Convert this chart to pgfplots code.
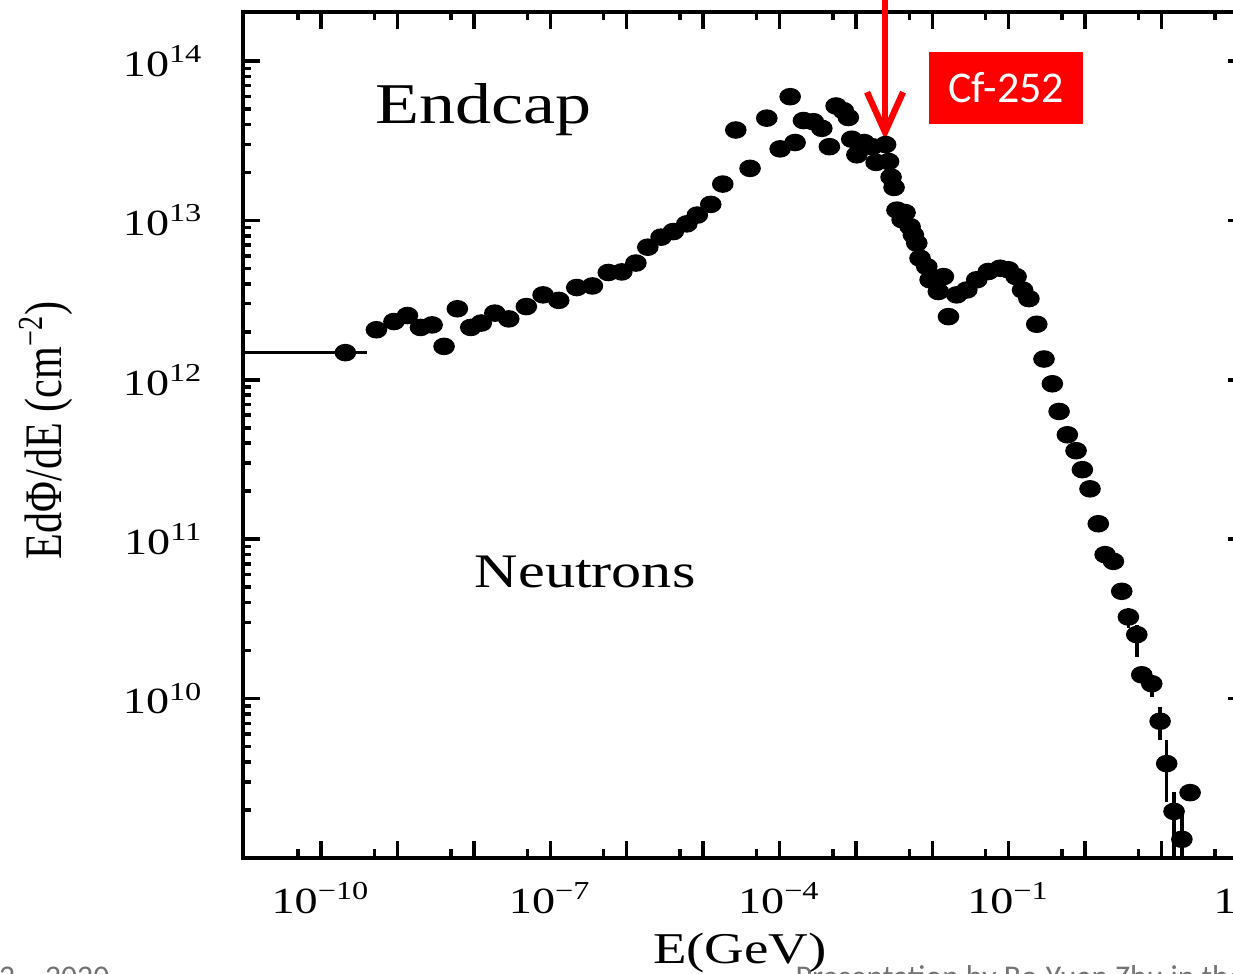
\documentclass[border=0pt]{standalone}
\usepackage{pgfplots}
\pgfplotsset{compat=1.18}
\usepackage{fontspec}
\usepackage{graphicx}
\setmainfont{Liberation Serif}
\newfontfamily\calibri{Carlito}
\usetikzlibrary{arrows.meta}

% stretched tick labels, the scan is wider than tall
\newcommand{\tl}[1]{\scalebox{1.25}[1]{10\textsuperscript{#1}}}

\begin{document}
\begin{tikzpicture}
\begin{axis}[
    at={(2.43cm,1.15cm)}, anchor=south west,
    scale only axis, width=10.02cm, height=8.46cm,
    xmode=log, ymode=log,
    xmin=9.5e-12, xmax=1.24e2,
    ymin=1e9, ymax=2.03e14,
    xtick={1e-10,1e-9,1e-8,1e-7,1e-6,1e-5,1e-4,1e-3,1e-2,1e-1,1,10,100},
    xticklabels={\tl{−10},,,\tl{−7},,,\tl{−4},,,\tl{−1},,,\hspace*{0.16cm}\tl{2}},
    minor xtick={5e-11,5e-10,5e-9,5e-8,5e-7,5e-6,5e-5,5e-4,5e-3,5e-2,0.5,5,50},
    ytick={1e10,1e11,1e12,1e13,1e14},
    yticklabels={\tl{10},\tl{11},\tl{12},\tl{13},\tl{14}},
    minor ytick={2e9,3e9,4e9,5e9,6e9,7e9,8e9,9e9,
                 2e10,3e10,4e10,5e10,6e10,7e10,8e10,9e10,
                 2e11,3e11,4e11,5e11,6e11,7e11,8e11,9e11,
                 2e12,3e12,4e12,5e12,6e12,7e12,8e12,9e12,
                 2e13,3e13,4e13,5e13,6e13,7e13,8e13,9e13},
    tick align=inside,
    major tick length=0.17cm,
    minor tick length=0.085cm,
    tick style={black, line width=1pt},
    axis line style={line width=1pt},
    tick label style={font=\fontsize{10.5}{12}\selectfont},
    xticklabel shift=0.12cm,
    yticklabel shift=0.27cm,
    clip=false,
]

% spectrum
\addplot[only marks, mark=*, black, mark size=2.3pt, mark options={xscale=1.25}]
coordinates {
(2.08e-10,1.48e12) (5.30e-10,2.06e12) (9.0e-10,2.32e12) (1.35e-9,2.53e12)
(2.0e-9,2.13e12) (2.84e-9,2.21e12) (4.07e-9,1.62e12) (6.08e-9,2.79e12)
(9.1e-9,2.13e12) (1.25e-8,2.27e12) (1.88e-8,2.62e12) (2.86e-8,2.41e12)
(4.86e-8,2.88e12) (8.05e-8,3.41e12) (1.29e-7,3.15e12) (2.22e-7,3.79e12)
(3.56e-7,3.88e12) (5.75e-7,4.71e12) (8.62e-7,4.75e12) (1.32e-6,5.40e12)
(1.89e-6,6.79e12) (2.82e-6,7.85e12) (4.08e-6,8.51e12) (6.12e-6,9.51e12)
(8.41e-6,1.08e13) (1.26e-5,1.26e13) (1.81e-5,1.69e13) (2.68e-5,3.69e13)
(4.12e-5,2.12e13) (6.82e-5,4.38e13) (1.02e-4,2.81e13) (1.38e-4,5.97e13)
(1.60e-4,3.08e13) (2.06e-4,4.23e13) (2.78e-4,4.16e13) (3.58e-4,3.78e13)
(4.50e-4,2.90e13) (5.51e-4,5.22e13) (6.86e-4,4.88e13) (7.97e-4,4.42e13)
(8.83e-4,3.23e13) (1.03e-3,2.58e13) (1.28e-3,3.08e13) (1.63e-3,2.90e13)
(1.84e-3,2.31e13) (2.45e-3,2.99e13) (2.68e-3,2.34e13) (2.89e-3,1.87e13)
(3.16e-3,1.61e13) (3.45e-3,1.16e13) (4.03e-3,1.01e13) (4.40e-3,1.12e13)
(5.12e-3,9.14e12) (5.66e-3,8.11e12) (6.27e-3,7.20e12) (6.92e-3,5.79e12)
(8.47e-3,5.13e12) (9.36e-3,4.24e12) (1.20e-2,3.58e12) (1.40e-2,4.44e12)
(1.63e-2,2.49e12) (2.09e-2,3.41e12) (2.83e-2,3.66e12) (3.82e-2,4.24e12)
(5.42e-2,4.78e12) (7.71e-2,5.01e12) (9.9e-2,4.90e12) (0.125,4.44e12)
(0.152,3.66e12) (0.184,3.23e12) (0.233,2.23e12) (0.290,1.35e12)
(0.373,9.44e11) (0.457,6.33e11) (0.586,4.52e11) (0.762,3.59e11)
(0.922,2.73e11) (1.16,2.07e11) (1.49,1.25e11) (1.83,8.0e10)
(2.35,7.26e10) (3.02,4.71e10) (5.52,1.41e10) (23.7,2.57e9)
};

% points with vertical error bars
\addplot[only marks, mark=*, black, mark size=2.3pt, mark options={xscale=1.25},
    error bars/.cd, y dir=both, y explicit, error mark=none,
    error bar style={line width=1pt}]
coordinates {
(3.69,3.25e10) += (0,0.47e10) -= (0,0.46e10)
(4.75,2.52e10) += (0,0.39e10) -= (0,0.69e10)
(7.46,1.24e10) += (0,0.05e10) -= (0,0.21e10)
(9.59,7.21e9) += (0,1.7e9) -= (0,1.68e9)
(11.7,3.91e9) += (0,1.62e9) -= (0,1.68e9)
(14.6,1.96e9) += (0,0.65e9) -= (0,0.96e9)
(18.5,1.31e9) += (0,0.65e9) -= (0,0.30e9)
};

% bin width of the lowest point
\addplot[black, line width=1pt] coordinates {(9.5e-12,1.48e12) (4.0e-10,1.48e12)};

\node[anchor=base, font=\fontsize{16.4}{18}\selectfont] at (axis cs:1.32e-8,4.08e13) {\scalebox{1.25}[1]{Endcap}};
\node[anchor=base, font=\fontsize{13.7}{16}\selectfont] at (axis cs:2.86e-7,4.97e10) {\scalebox{1.25}[1]{Neutrons}};

\draw[red, line width=1.8pt, -{Straight Barb[length=0.4cm, width=0.36cm]}]
    (axis cs:2.41e-3,2.7e14) -- (axis cs:2.41e-3,3.2e13);
\node[fill=red, text=white, minimum width=1.54cm, minimum height=0.72cm, inner sep=0pt,
      font=\calibri\fontsize{12.5}{14}\selectfont] at (axis cs:9.25e-2,6.78e13) {Cf-252};
\end{axis}

\node[rotate=90, font=\fontsize{12}{14}\selectfont] at (0.46cm,5.43cm)
    {\scalebox{1}[1.25]{EdΦ/dE (cm\textsuperscript{−2})}};
\node[anchor=base, font=\fontsize{12.5}{14}\selectfont] at (7.40cm,0.10cm) {\scalebox{1.25}[1]{E(GeV)}};

% slide footer, cut off at the bottom
\node[anchor=base west, inner sep=0pt, text=black!55, font=\calibri\fontsize{9}{11}\selectfont] at (7.95cm,-0.14cm) {Presentation by Bo-Yuan Zhu in the};
\node[anchor=base east, inner sep=0pt, text=black!55, font=\calibri\fontsize{9}{11}\selectfont] at (1.10cm,-0.14cm) {22 – 2020};

\pgfresetboundingbox
\useasboundingbox (0,0) rectangle (12.33cm,9.73cm);
\end{tikzpicture}
\end{document}
